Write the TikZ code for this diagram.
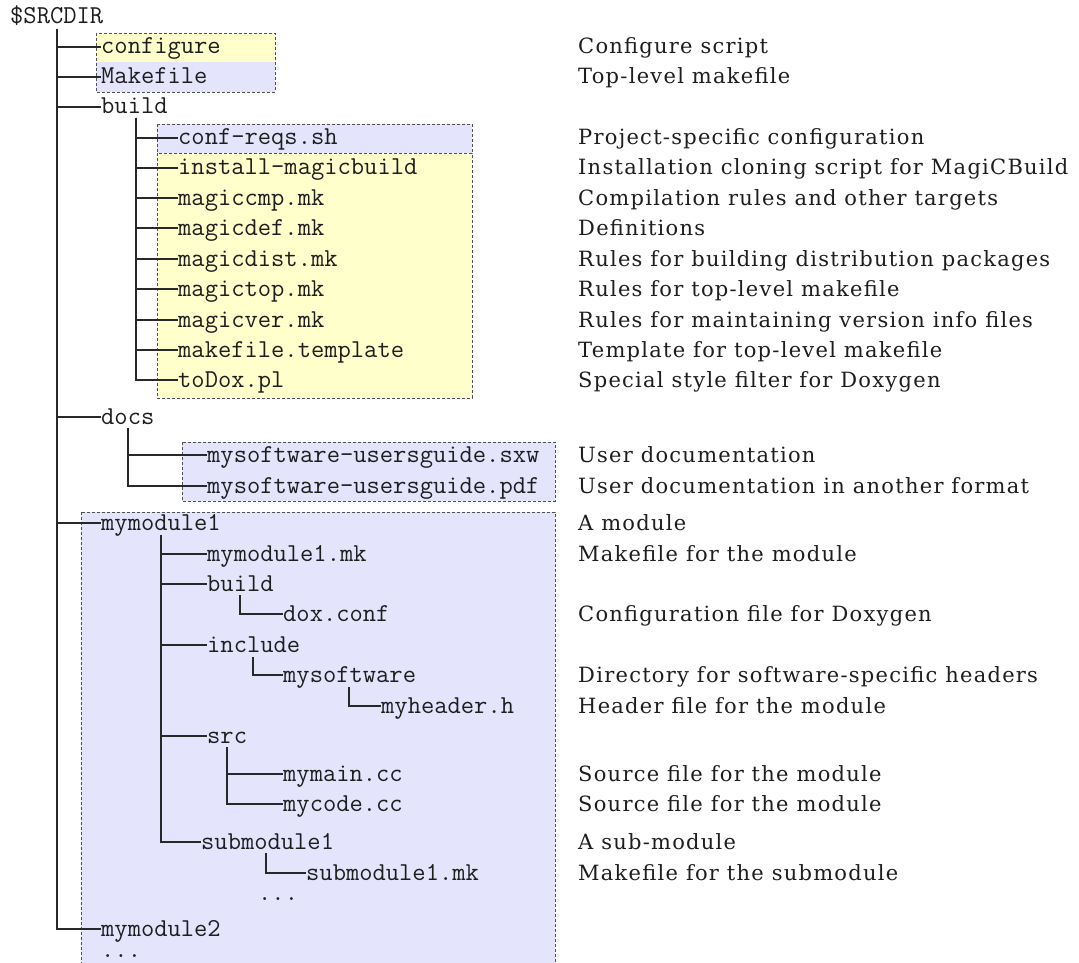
\documentclass[tikz,border=0pt]{standalone}
\usepackage{fontspec}
\newfontfamily\descfont[LetterSpace=6]{DejaVu Serif}
\definecolor{fg}{RGB}{30,30,30}
\definecolor{linec}{RGB}{40,40,40}
\definecolor{boxc}{RGB}{80,80,80}
\definecolor{cfgfill}{RGB}{255,255,204}
\definecolor{mkfill}{RGB}{228,228,252}
\tikzset{
  entry/.style={anchor=west, inner sep=0pt, text height=14pt, text depth=0pt,
    font={\fontsize{25.8}{28}\selectfont\ttfamily}, text=fg},
  desc/.style={anchor=west, inner sep=0pt, text height=14pt, text depth=0pt,
    font={\fontsize{21}{26}\selectfont\descfont}, text=fg},
  link/.style={draw=linec, line width=1.2pt},
  grpbox/.style={draw=boxc, dash pattern=on 3pt off 2pt, line width=0.9pt},
}
\begin{document}
\begin{tikzpicture}[x=1pt,y=-1pt]
\clip (0,0) rectangle (1079,963);
\fill[white] (0,0) rectangle (1079,963);

% shaded groups
\fill[cfgfill] (96,33) rectangle (275,62);
\fill[mkfill] (96,62) rectangle (275,92);
\draw[grpbox] (96,33) rectangle (275,92);
\fill[mkfill] (157,124) rectangle (472,153);
\draw[grpbox] (157,124) rectangle (472,153);
\fill[cfgfill] (157,153) rectangle (472,398);
\draw[grpbox] (157,153) rectangle (472,398);
\fill[mkfill] (182,442) rectangle (555,501);
\draw[grpbox] (182,442) rectangle (555,501);
\fill[mkfill] (81,512) rectangle (555,990);
\draw[grpbox] (81,512) rectangle (555,990);

% tree entries
\node[entry] (root) at (10,17) {\$SRCDIR};
\node[entry] (configure) at (101,47) {configure};
\node[entry] (makefile) at (101,77) {Makefile};
\node[entry] (build) at (101,107) {build};
\node[entry] (confreqs) at (178,138) {conf-reqs.sh};
\node[entry] (install) at (178,168) {install-magicbuild};
\node[entry] (magiccmp) at (178,198) {magiccmp.mk};
\node[entry] (magicdef) at (178,228) {magicdef.mk};
\node[entry] (magicdist) at (178,259) {magicdist.mk};
\node[entry] (magictop) at (178,289) {magictop.mk};
\node[entry] (magicver) at (178,320) {magicver.mk};
\node[entry] (mktemplate) at (178,350) {makefile.template};
\node[entry] (todox) at (178,380) {toDox.pl};
\node[entry] (docs) at (101,417) {docs};
\node[entry] (sxw) at (207,455) {mysoftware-usersguide.sxw};
\node[entry] (pdf) at (207,486) {mysoftware-usersguide.pdf};
\node[entry] (mod1) at (101,523) {mymodule1};
\node[entry] (mod1mk) at (207,554) {mymodule1.mk};
\node[entry] (mbuild) at (207,584) {build};
\node[entry] (doxconf) at (283,614) {dox.conf};
\node[entry] (include) at (207,645) {include};
\node[entry] (mysw) at (283,675) {mysoftware};
\node[entry] (myheader) at (381,706) {myheader.h};
\node[entry] (src) at (207,736) {src};
\node[entry] (mymain) at (283,774) {mymain.cc};
\node[entry] (mycode) at (283,804) {mycode.cc};
\node[entry] (sub1) at (201,842) {submodule1};
\node[entry] (sub1mk) at (306,873) {submodule1.mk};
\node[entry] (subdots) at (258,893) {...};
\node[entry] (mod2) at (101,929) {mymodule2};
\node[entry] (topdots) at (101,950) {...};

% tops of the branch lines
\coordinate (root-v) at (57,29);
\coordinate (build-v) at (136,118);
\coordinate (docs-v) at (128,428);
\coordinate (mod1-v) at (161,535);
\coordinate (mbuild-v) at (240,595);
\coordinate (include-v) at (253,657);
\coordinate (mysw-v) at (349,687);
\coordinate (src-v) at (227,747);
\coordinate (sub1-v) at (266,853);

% branches
\foreach \c in {configure,makefile,build,docs,mod1,mod2}
  \draw[link] (root-v) |- (\c.west);
\foreach \c in {confreqs,install,magiccmp,magicdef,magicdist,magictop,magicver,mktemplate,todox}
  \draw[link] (build-v) |- (\c.west);
\foreach \c in {sxw,pdf}
  \draw[link] (docs-v) |- (\c.west);
\foreach \c in {mod1mk,mbuild,include,src,sub1}
  \draw[link] (mod1-v) |- (\c.west);
\draw[link] (mbuild-v) |- (doxconf.west);
\draw[link] (include-v) |- (mysw.west);
\draw[link] (mysw-v) |- (myheader.west);
\foreach \c in {mymain,mycode}
  \draw[link] (src-v) |- (\c.west);
\draw[link] (sub1-v) |- (sub1mk.west);

% descriptions
\node[desc] (d-configure) at (578,47) {Configure script};
\node[desc] (d-makefile) at (578,77) {Top-level makefile};
\node[desc] (d-confreqs) at (578,138) {Project-specific configuration};
\node[desc] (d-install) at (578,168) {Installation cloning script for MagiCBuild};
\node[desc] (d-magiccmp) at (578,198) {Compilation rules and other targets};
\node[desc] (d-magicdef) at (578,228) {Definitions};
\node[desc] (d-magicdist) at (578,259) {Rules for building distribution packages};
\node[desc] (d-magictop) at (578,289) {Rules for top-level makefile};
\node[desc] (d-magicver) at (578,320) {Rules for maintaining version info files};
\node[desc] (d-mktemplate) at (578,350) {Template for top-level makefile};
\node[desc] (d-todox) at (578,380) {Special style filter for Doxygen};
\node[desc] (d-sxw) at (578,455) {User documentation};
\node[desc] (d-pdf) at (578,486) {User documentation in another format};
\node[desc] (d-mod1) at (578,523) {A module};
\node[desc] (d-mod1mk) at (578,554) {Makefile for the module};
\node[desc] (d-doxconf) at (578,614) {Configuration file for Doxygen};
\node[desc] (d-mysw) at (578,675) {Directory for software-specific headers};
\node[desc] (d-myheader) at (578,706) {Header file for the module};
\node[desc] (d-mymain) at (578,774) {Source file for the module};
\node[desc] (d-mycode) at (578,804) {Source file for the module};
\node[desc] (d-sub1) at (578,842) {A sub-module};
\node[desc] (d-sub1mk) at (578,873) {Makefile for the submodule};
\end{tikzpicture}
\end{document}
